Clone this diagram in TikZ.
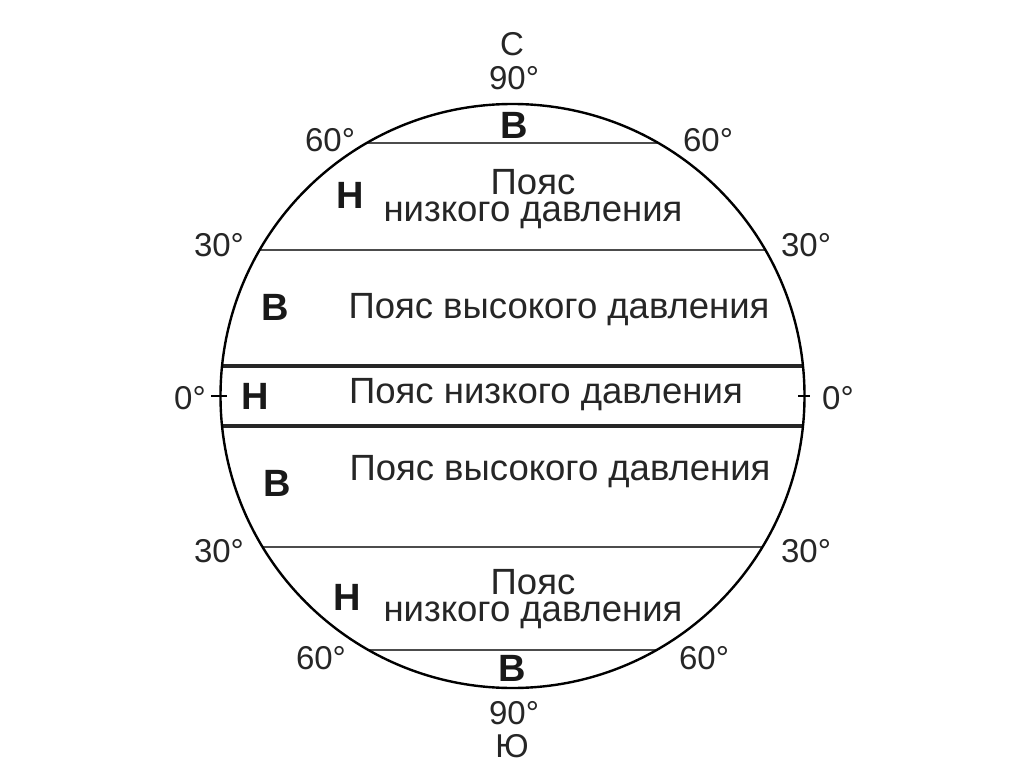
\documentclass[tikz,border=0pt]{standalone}
\usepackage{fontspec}
\setmainfont{Liberation Sans}
\begin{document}
\begin{tikzpicture}[x=1pt,y=-1pt,
  lat/.style={draw=black!70,line width=2.6pt},
  eq/.style={draw=black!85,line width=3.2pt},
  txt/.style={font=\fontsize{36.5}{27}\selectfont,inner sep=0pt,text=black!85,align=center},
  deg/.style={font=\fontsize{33}{35}\selectfont,inner sep=0pt,text=black!85},
  pr/.style={font=\fontsize{38}{40}\selectfont\bfseries,inner sep=0pt,text=black!90}]
\useasboundingbox (0,0) rectangle (1024,767);
\fill[white] (0,0) rectangle (1024,767);
\coordinate (O) at (512.5,396);
\begin{scope}
\clip (O) circle (292);
\draw[lat] (200,143) -- (830,143);
\draw[lat] (200,250) -- (830,250);
\draw[eq] (200,366) -- (830,366);
\draw[eq] (200,426) -- (830,426);
\draw[lat] (200,547) -- (830,547);
\draw[lat] (200,650) -- (830,650);
\end{scope}
\draw[line width=2.4pt] (O) circle (292);
\draw[line width=1.6pt] (211,396) -- (227,396);
\draw[line width=1.6pt] (798,396) -- (810,396);
% pole labels
\node[deg] (N) at (512,44) {С};
\node[deg] (n90) at (514,78) {90°};
\node[deg] (s90) at (514,713) {90°};
\node[deg] (S) at (512,746) {Ю};
\node[deg] (l60a) at (330,140) {60°};
\node[deg] (r60a) at (708,140) {60°};
\node[deg] (l30a) at (219,245) {30°};
\node[deg] (r30a) at (806,245) {30°};
\node[deg] (l0) at (190,398) {0°};
\node[deg] (r0) at (838,398) {0°};
\node[deg] (l30b) at (219,551) {30°};
\node[deg] (r30b) at (806,551) {30°};
\node[deg] (l60b) at (321,658) {60°};
\node[deg] (r60b) at (704,658) {60°};
% pressure letters
\node[pr] (b1) at (514,125) {В};
\node[pr] (h1) at (350,195) {Н};
\node[pr] (b2) at (275,307) {В};
\node[pr] (h2) at (255,396) {Н};
\node[pr] (b3) at (277,483) {В};
\node[pr] (h3) at (347,597) {Н};
\node[pr] (b4) at (512,668) {В};
% belt texts
\node[txt] (t1) at (533,199) {Пояс\\низкого давления};
\node[txt] (t2) at (559,310) {Пояс высокого давления};
\node[txt] (t3) at (546,395) {Пояс низкого давления};
\node[txt] (t4) at (560,472) {Пояс высокого давления};
\node[txt] (t5) at (533,599) {Пояс\\низкого давления};
\end{tikzpicture}
\end{document}
